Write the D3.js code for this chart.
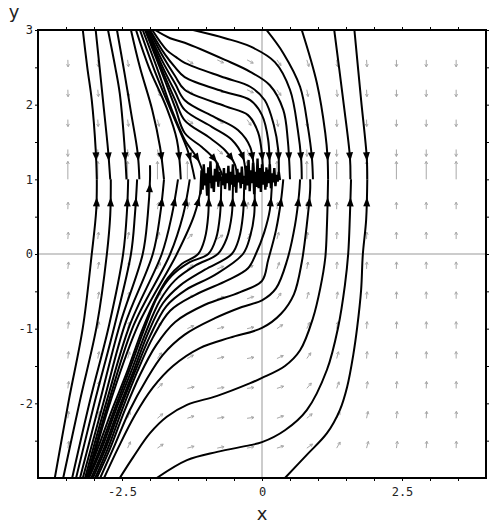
<!DOCTYPE html>
<html>
<head>
<meta charset="utf-8">
<script src="https://cdn.jsdelivr.net/npm/d3@7"></script>
<style>
  body { margin: 0; background: #fff; }
  svg { display: block; }
</style>
</head>
<body>
<svg id="chart" width="494" height="529"></svg>
<script>

// solution curves above y = 1 (each runs down to y = 1)
var upperLeftCurves = [
    [[-3.2, 3], [-3.12, 2.5], [-3.04, 2.06], [-2.97, 1.4], [-2.95, 1]],
    [[-2.97, 3], [-2.9, 2.5], [-2.84, 2.06], [-2.75, 1.4], [-2.71, 1]],
    [[-2.75, 3], [-2.62, 2.5], [-2.54, 2.15], [-2.46, 1.5], [-2.42, 1]],
    [[-2.59, 3], [-2.45, 2.4], [-2.34, 1.9], [-2.22, 1.35], [-2.19, 1]],
    [[-2.34, 3], [-2.18, 2.5], [-1.96, 1.93], [-1.82, 1.43], [-1.75, 1]],
    [[-2.25, 3], [-2.02, 2.5], [-1.71, 1.97], [-1.52, 1.53], [-1.45, 1]],
    [[-2.18, 3], [-1.91, 2.44], [-1.59, 1.86], [-1.32, 1.37], [-1.2, 1]],
    [[-2.13, 3], [-1.86, 2.46], [-1.61, 1.93], [-1.38, 1.53], [-1.14, 1.26], [-1.02, 1]]
];

var upperFanCurves = [
    [[-2.09, 3], [-1.82, 2.49], [-1.55, 1.96], [-1.38, 1.62], [-1.07, 1.43], [-0.84, 1.26], [-0.68, 1]],
    [[-2.07, 3], [-1.82, 2.53], [-1.55, 2.06], [-1.38, 1.79], [-0.96, 1.57], [-0.66, 1.39], [-0.48, 1.19], [-0.45, 1]],
    [[-2.05, 3], [-1.79, 2.53], [-1.55, 2.17], [-1.38, 1.93], [-0.89, 1.7], [-0.54, 1.53], [-0.34, 1.3], [-0.29, 1]],
    [[-2.04, 3], [-1.77, 2.57], [-1.55, 2.28], [-1.38, 2.06], [-0.84, 1.83], [-0.43, 1.66], [-0.21, 1.43], [-0.14, 1]],
    [[-2.02, 3], [-1.75, 2.62], [-1.55, 2.38], [-1.38, 2.2], [-0.66, 1.98], [-0.25, 1.86], [-0.07, 1.63], [0, 1.33], [0.02, 1]],
    [[-2.0, 3], [-1.73, 2.67], [-1.55, 2.5], [-1.38, 2.37], [-0.66, 2.17], [-0.21, 2.06], [0, 1.86], [0.11, 1.53], [0.14, 1]],
    [[-1.96, 3], [-1.7, 2.73], [-1.54, 2.64], [-1.38, 2.56], [-0.66, 2.36], [-0.21, 2.24], [0.05, 2.06], [0.21, 1.73], [0.29, 1.39], [0.3, 1]],
    [[-1.91, 3], [-1.64, 2.89], [-1.38, 2.83], [-0.66, 2.6], [-0.21, 2.44], [0.14, 2.26], [0.38, 1.93], [0.46, 1.53], [0.5, 1]],
    [[-1.23, 3], [-0.66, 2.89], [-0.21, 2.78], [0.23, 2.57], [0.5, 2.2], [0.64, 1.66], [0.7, 1.26], [0.71, 1]]
];

var upperRightCurves = [
    [[0.08, 3], [0.38, 2.69], [0.68, 2.24], [0.82, 1.7], [0.89, 1.3], [0.91, 1]],
    [[0.71, 3], [0.98, 2.29], [1.13, 1.62], [1.17, 1.3], [1.18, 1]],
    [[1.29, 3], [1.45, 2.06], [1.57, 1.3], [1.58, 1]],
    [[1.65, 3], [1.77, 2.06], [1.87, 1.3], [1.88, 1]]
];

// solution curves below y = 1, each runs up to y = 1
var lowerLeftCurves = [
    [[-3.7, -3], [-3.45, -1.96], [-3.2, -0.99], [-3.04, 0], [-2.96, 0.59], [-2.95, 1]],
    [[-3.55, -3], [-3.25, -1.96], [-2.95, -0.96], [-2.77, 0], [-2.71, 0.52], [-2.7, 1]],
    [[-3.39, -3], [-3.07, -1.96], [-2.73, -0.95], [-2.48, 0], [-2.41, 0.59], [-2.39, 1]],
    [[-3.32, -3], [-2.98, -1.96], [-2.63, -0.95], [-2.34, 0], [-2.27, 0.52], [-2.23, 1]],
    [[-3.25, -3], [-2.89, -1.96], [-2.54, -0.95], [-2.13, 0], [-2.04, 0.52], [-2.0, 1], [-2.0, 1.19]],
    [[-3.2, -3], [-2.82, -1.96], [-2.45, -0.95], [-1.95, 0], [-1.82, 0.52], [-1.75, 1]],
    [[-3.16, -3], [-2.77, -1.96], [-2.36, -0.95], [-1.79, 0], [-1.61, 0.52], [-1.5, 1]],
    [[-3.13, -3], [-2.73, -1.96], [-2.29, -0.95], [-1.64, 0], [-1.41, 0.52], [-1.29, 1]],
    [[-3.11, -3], [-2.7, -1.96], [-2.21, -0.95], [-1.52, 0], [-1.21, 0.52], [-1.05, 1]]
];

var lowerBandCurves = [
    [[-3.14, -3], [-2.93, -2.6], [-2.68, -2.09], [-2.41, -1.58], [-2.14, -1.02], [-1.89, -0.59], [-1.68, -0.32], [-1.43, -0.13], [-1.14, 0], [-1.02, 0.21], [-0.96, 0.52], [-0.95, 0.86], [-0.95, 1]],
    [[-3.11, -3], [-2.89, -2.6], [-2.64, -2.09], [-2.38, -1.58], [-2.11, -1.02], [-1.86, -0.56], [-1.61, -0.29], [-1.29, -0.11], [-0.96, 0], [-0.82, 0.21], [-0.75, 0.52], [-0.73, 0.86], [-0.73, 1]],
    [[-3.09, -3], [-2.86, -2.6], [-2.61, -2.09], [-2.34, -1.58], [-2.07, -1.04], [-1.82, -0.62], [-1.55, -0.35], [-1.18, -0.15], [-0.79, 0], [-0.63, 0.21], [-0.54, 0.52], [-0.52, 0.86], [-0.52, 1]],
    [[-3.05, -3], [-2.82, -2.6], [-2.57, -2.09], [-2.3, -1.58], [-2.04, -1.07], [-1.77, -0.66], [-1.46, -0.42], [-1.02, -0.21], [-0.54, 0], [-0.41, 0.21], [-0.34, 0.52], [-0.32, 0.86], [-0.32, 1]],
    [[-3.02, -3], [-2.79, -2.6], [-2.54, -2.09], [-2.27, -1.58], [-2.0, -1.1], [-1.71, -0.7], [-1.36, -0.48], [-0.84, -0.28], [-0.34, 0], [-0.21, 0.24], [-0.14, 0.52], [-0.13, 0.86], [-0.13, 1]],
    [[-2.98, -3], [-2.75, -2.6], [-2.5, -2.09], [-2.23, -1.58], [-1.95, -1.12], [-1.64, -0.76], [-1.2, -0.55], [-0.61, -0.35], [-0.25, -0.19], [-0.11, 0], [0.04, 0.29], [0.14, 0.59], [0.18, 1]],
    [[-2.95, -3], [-2.71, -2.6], [-2.45, -2.09], [-2.18, -1.62], [-1.89, -1.22], [-1.55, -0.91], [-1.02, -0.68], [-0.39, -0.51], [0, -0.36], [0.11, -0.08], [0.25, 0.32], [0.34, 0.72], [0.38, 1]]
];

var lowerRightCurves = [
    [[-2.89, -3], [-2.63, -2.56], [-2.36, -2.09], [-2.07, -1.69], [-1.77, -1.35], [-1.38, -1.08], [-0.84, -0.86], [-0.36, -0.71], [0, -0.62], [0.25, -0.46], [0.45, -0.08], [0.59, 0.39], [0.66, 0.79], [0.68, 1]],
    [[-2.82, -3], [-2.57, -2.6], [-2.27, -2.16], [-1.95, -1.79], [-1.59, -1.5], [-1.11, -1.26], [-0.57, -1.12], [0, -0.99], [0.34, -0.8], [0.57, -0.54], [0.71, -0.11], [0.8, 0.39], [0.86, 0.86], [0.86, 1]],
    [[-2.54, -3], [-2.3, -2.72], [-2.0, -2.4], [-1.7, -2.18], [-1.34, -2.02], [-0.8, -1.9], [-0.21, -1.73], [0, -1.66], [0.41, -1.5], [0.68, -1.29], [0.91, -0.86], [1.04, -0.46], [1.13, -0.05], [1.16, 0.39], [1.18, 1]],
    [[-1.88, -3], [-1.34, -2.76], [-0.8, -2.65], [-0.21, -2.56], [0, -2.52], [0.41, -2.36], [0.8, -2.09], [1.16, -1.55], [1.36, -0.98], [1.48, -0.42], [1.54, 0.01], [1.57, 0.52], [1.59, 1]],
    [[0.41, -3], [0.8, -2.69], [1.16, -2.4], [1.39, -2.09], [1.52, -1.78], [1.63, -1.35], [1.7, -0.98], [1.77, -0.48], [1.8, -0.01], [1.86, 0.46], [1.88, 1]]
];

// ragged pieces where the numerical solutions break up along y = 1
var noiseTraces = [
    [[-1.10, 0.80], [-1.08, 1.12], [-1.06, 0.86], [-1.04, 1.20], [-1.02, 0.92], [-1.00, 1.08], [-0.98, 0.78], [-0.96, 1.16], [-0.94, 0.95], [-0.92, 1.24],
     [-0.90, 0.88], [-0.88, 1.05], [-0.86, 0.83], [-0.84, 1.14], [-0.82, 0.97], [-0.80, 1.22], [-0.78, 0.90], [-0.76, 1.10], [-0.74, 0.98], [-0.72, 1.04]],
    [[-0.70, 0.92], [-0.68, 1.15], [-0.66, 0.87], [-0.64, 1.08], [-0.62, 0.95], [-0.60, 1.18], [-0.58, 0.85], [-0.56, 1.10], [-0.54, 0.93], [-0.52, 1.20],
     [-0.50, 0.90], [-0.48, 1.06], [-0.46, 0.82], [-0.44, 1.14], [-0.42, 0.96], [-0.40, 1.09], [-0.38, 0.88], [-0.36, 1.17], [-0.34, 0.94], [-0.32, 1.05]],
    [[-0.30, 0.86], [-0.28, 1.18], [-0.26, 0.92], [-0.24, 1.26], [-0.22, 0.84], [-0.20, 1.12], [-0.18, 0.95], [-0.16, 1.22], [-0.14, 0.80], [-0.12, 1.10],
     [-0.10, 0.90], [-0.08, 1.28], [-0.06, 0.88], [-0.04, 1.15], [-0.02, 0.83], [0.00, 1.20], [0.02, 0.93], [0.04, 1.10], [0.06, 0.86], [0.08, 1.16]],
    [[0.08, 0.90], [0.10, 1.13], [0.12, 0.95], [0.14, 1.20], [0.16, 0.88], [0.18, 1.08], [0.20, 0.96], [0.22, 1.15], [0.24, 0.91], [0.26, 1.06],
     [0.28, 0.97], [0.30, 1.10], [0.32, 0.99]]
];

// direction field grid and arrow angles (degrees, 90 = up), rows from top to bottom
var fieldXs = [-3.467, -2.933, -2.4, -1.867, -1.333, -0.8, -0.267, 0.267, 0.8, 1.333, 1.867, 2.4, 2.933, 3.467];
var fieldYs = [2.6, 2.2, 1.8, 1.4, 1.0, 0.6, 0.2, -0.2, -0.6, -1.0, -1.4, -1.8, -2.2, -2.6];
var fieldAngles = [
    [-88, -85, -82, -70, -35, -25, -28, -55, -72, -82, -86, -89, -90, -90],
    [-88, -84, -80, -65, -40, -20, -25, -55, -79, -84, -87, -89, -90, -90],
    [-89, -86, -82, -76, -37, -30, -55, -80, -86, -88, -89, -90, -90, -90],
    [-90, -88, -86, -80, -75, -40, -70, -87, -89, -90, -90, -90, -90, -90],
    [90, 90, 90, 90, 90, 90, 90, 90, 90, 90, 90, 90, 90, 90],
    [88, 86, 84, 80, 75, 70, 80, 85, 88, 89, 90, 90, 90, 90],
    [86, 83, 80, 75, 45, 35, 55, 75, 83, 87, 88, 90, 90, 90],
    [84, 80, 76, 66, 35, 22, 30, 70, 80, 86, 88, 89, 90, 90],
    [84, 80, 75, 62, 30, 16, 18, 55, 75, 82, 87, 89, 90, 90],
    [84, 80, 74, 60, 25, 12, 12, 35, 65, 80, 86, 88, 89, 90],
    [84, 79, 72, 55, 30, 12, 10, 25, 55, 75, 85, 88, 89, 90],
    [83, 78, 70, 45, 12, 8, 8, 18, 50, 70, 82, 86, 88, 89],
    [83, 77, 68, 40, 18, 8, 7, 20, 40, 62, 78, 84, 87, 88],
    [82, 76, 66, 35, 15, 12, 12, 18, 35, 60, 75, 82, 86, 88]
];

var xTickValues = [-3.5, -3, -2.5, -2, -1.5, -1, -0.5, 0, 0.5, 1, 1.5, 2, 2.5, 3, 3.5];
var yTickValues = [-2.5, -2, -1.5, -1, -0.5, 0, 0.5, 1, 1.5, 2, 2.5, 3];
var xLabelValues = [-2.5, 0, 2.5];
var yLabelValues = [-2, -1, 0, 1, 2, 3];

// set the dimensions and margins of the graph
var margin = {
    top: 30,
    left: 38
};
var width = 448;
var height = 448;

var x = d3.scaleLinear().domain([-4, 4]).range([0, width]);
var y = d3.scaleLinear().domain([-3, 3]).range([height, 0]);

var svg = d3.select('#chart');

var plot = svg.append('g')
    .attr('transform', 'translate(' + margin.left + ',' + margin.top + ')');

plot.append('clipPath')
    .attr('id', 'plot-clip')
    .append('rect')
    .attr('width', width)
    .attr('height', height);

var inner = plot.append('g').attr('clip-path', 'url(#plot-clip)');

// direction field arrows: tail on the grid point
var arrowGroup = inner.append('g')
    .attr('stroke', '#a8a8a8')
    .attr('stroke-width', 1)
    .attr('fill', 'none');

fieldYs.forEach(function (fy, i) {
    fieldXs.forEach(function (fx, j) {
        var a = fieldAngles[i][j] * Math.PI / 180;
        var len = fy === 1 ? 18 : 7;
        var x0 = x(fx), y0 = y(fy);
        var x1 = x0 + len * Math.cos(a), y1 = y0 - len * Math.sin(a);
        var back = Math.atan2(y0 - y1, x0 - x1);
        var h = 3;
        arrowGroup.append('path')
            .attr('d', 'M' + x0 + ',' + y0 + 'L' + x1 + ',' + y1 +
                'M' + (x1 + h * Math.cos(back + 0.5)) + ',' + (y1 + h * Math.sin(back + 0.5)) +
                'L' + x1 + ',' + y1 +
                'L' + (x1 + h * Math.cos(back - 0.5)) + ',' + (y1 + h * Math.sin(back - 0.5)));
    });
});

// the two axes through the origin
inner.append('line')
    .attr('x1', x(0)).attr('x2', x(0))
    .attr('y1', 0).attr('y2', height)
    .attr('stroke', '#999').attr('stroke-width', 1);
inner.append('line')
    .attr('x1', 0).attr('x2', width)
    .attr('y1', y(0)).attr('y2', y(0))
    .attr('stroke', '#999').attr('stroke-width', 1);

var smoothLine = d3.line()
    .x(function (d) { return x(d[0]); })
    .y(function (d) { return y(d[1]); })
    .curve(d3.curveCatmullRom.alpha(0.5));

var rawLine = d3.line()
    .x(function (d) { return x(d[0]); })
    .y(function (d) { return y(d[1]); });

var allCurves = upperLeftCurves
    .concat(upperFanCurves, upperRightCurves, lowerLeftCurves, lowerBandCurves, lowerRightCurves);

var curveGroup = inner.append('g');

curveGroup.selectAll('.traj')
    .data(allCurves)
    .enter().append('path')
    .attr('class', 'traj')
    .attr('d', smoothLine)
    .attr('fill', 'none')
    .attr('stroke', '#000')
    .attr('stroke-width', 2);

curveGroup.selectAll('.noise')
    .data(noiseTraces)
    .enter().append('path')
    .attr('class', 'noise')
    .attr('d', rawLine)
    .attr('fill', 'none')
    .attr('stroke', '#000')
    .attr('stroke-width', 2.4)
    .attr('stroke-linejoin', 'bevel');

// arrow heads on the trajectories, a little before they reach y = 1
curveGroup.selectAll('.traj').each(function () {
    var total = this.getTotalLength();
    var p1 = this.getPointAtLength(Math.max(0, total - 26));
    var p2 = this.getPointAtLength(Math.max(0, total - 22));
    var ang = Math.atan2(p2.y - p1.y, p2.x - p1.x);
    var tipX = p2.x + 4 * Math.cos(ang), tipY = p2.y + 4 * Math.sin(ang);
    var bx = tipX - 9 * Math.cos(ang), by = tipY - 9 * Math.sin(ang);
    var px = -Math.sin(ang) * 3.5, py = Math.cos(ang) * 3.5;
    curveGroup.append('path')
        .attr('d', 'M' + tipX + ',' + tipY + 'L' + (bx + px) + ',' + (by + py) + 'L' + (bx - px) + ',' + (by - py) + 'Z')
        .attr('fill', '#000');
});

// ticks on all four sides, labels on bottom and left
function styleAxis(sel) {
    sel.select('.domain').remove();
    sel.selectAll('line').attr('stroke', '#000');
    sel.selectAll('text')
        .attr('fill', '#222')
        .style('font-family', '"DejaVu Sans Mono", monospace')
        .style('font-size', '12px');
}

plot.append('g')
    .attr('transform', 'translate(0,' + height + ')')
    .call(d3.axisBottom(x).tickValues(xTickValues).tickSize(3).tickPadding(6)
        .tickFormat(function (d) { return xLabelValues.indexOf(d) >= 0 ? String(d) : ''; }))
    .call(styleAxis);

plot.append('g')
    .call(d3.axisLeft(y).tickValues(yTickValues).tickSize(3).tickPadding(2)
        .tickFormat(function (d) { return yLabelValues.indexOf(d) >= 0 ? String(d) : ''; }))
    .call(styleAxis);

plot.append('g')
    .call(d3.axisTop(x).tickValues(xTickValues).tickSize(3).tickFormat(''))
    .call(styleAxis);

plot.append('g')
    .attr('transform', 'translate(' + width + ',0)')
    .call(d3.axisRight(y).tickValues(yTickValues).tickSize(3).tickFormat(''))
    .call(styleAxis);

// frame
plot.append('rect')
    .attr('width', width)
    .attr('height', height)
    .attr('fill', 'none')
    .attr('stroke', '#000')
    .attr('stroke-width', 2);

// axis titles
svg.append('text')
    .attr('x', margin.left + x(0))
    .attr('y', 520)
    .attr('text-anchor', 'middle')
    .style('font-family', '"DejaVu Sans", sans-serif')
    .style('font-size', '18px')
    .attr('fill', '#222')
    .text('x');

svg.append('text')
    .attr('x', 14)
    .attr('y', 18)
    .attr('text-anchor', 'middle')
    .style('font-family', '"DejaVu Sans", sans-serif')
    .style('font-size', '18px')
    .attr('fill', '#222')
    .text('y');

</script>
</body>
</html>
